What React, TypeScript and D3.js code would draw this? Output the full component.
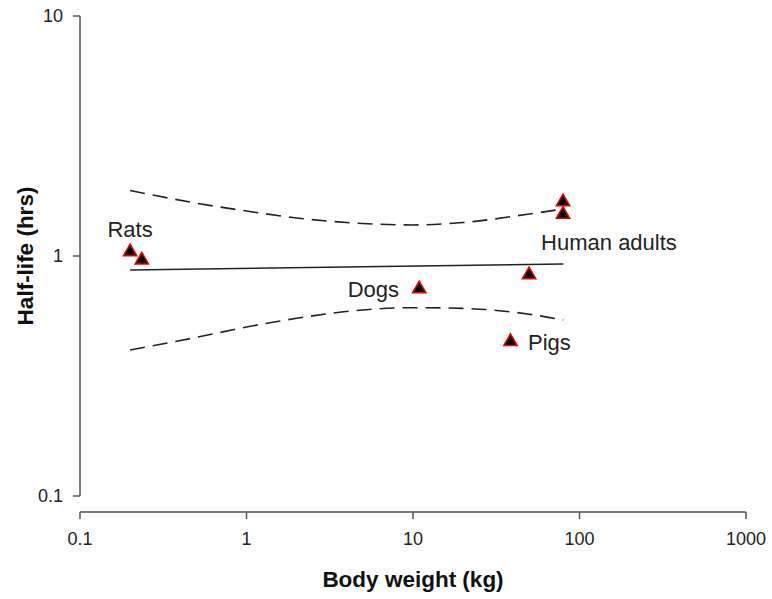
import { scaleLog, line, curveMonotoneX, symbol, symbolTriangle } from "d3";

const species = ["Rats", "Rats", "Dogs", "Pigs", "Human adults", "Human adults", "Human adults"];
const bodyWeight = [0.2, 0.235, 10.9, 38.5, 49.8, 79.6, 79.6];
const halfLife = [1.04, 0.962, 0.729, 0.44, 0.835, 1.68, 1.49];

// fitted line and confidence band
const fitWeight = [0.2, 80];
const fitHalfLife = [0.874, 0.926];
const bandWeight = [0.2, 0.5, 1, 2, 5, 10, 20, 50, 80];
const bandUpper = [1.875, 1.66, 1.54, 1.44, 1.366, 1.347, 1.379, 1.496, 1.57];
const bandLower = [0.406, 0.458, 0.506, 0.55, 0.596, 0.609, 0.605, 0.572, 0.541];

// group labels
const labelText = ["Rats", "Human adults", "Dogs", "Pigs"];
const labelWeight = [0.2, 58.8, 8.24, 49.1];
const labelHalfLife = [1.2, 1.06, 0.673, 0.406];
const labelAnchor = ["middle", "start", "end", "start"];

const xTicks = [0.1, 1, 10, 100, 1000];
const yTicks = [0.1, 1, 10];

const W = 772, H = 599;
const FONT = "'Liberation Sans', Arial, Helvetica, sans-serif";

export default function App() {
  const x = scaleLog().domain([0.1, 1000]).range([80, 746]);
  const y = scaleLog().domain([0.1, 10]).range([496, 16]);

  const straight = line<[number, number]>().x(d => x(d[0])).y(d => y(d[1]));
  const smooth = line<[number, number]>().x(d => x(d[0])).y(d => y(d[1])).curve(curveMonotoneX);

  const fitPts = fitWeight.map((w, i) => [w, fitHalfLife[i]] as [number, number]);
  const upPts = bandWeight.map((w, i) => [w, bandUpper[i]] as [number, number]);
  const loPts = bandWeight.map((w, i) => [w, bandLower[i]] as [number, number]);
  const tri = symbol().type(symbolTriangle).size(78)() ?? "";
  const axisCol = "#555";

  return (
    <svg width={W} height={H} viewBox={`0 0 ${W} ${H}`}
      style={{ position: "absolute", left: 0, top: 0, background: "#fff" }}
      fontFamily={FONT}>
      {/* y axis */}
      <line x1={80} x2={80} y1={y(10)} y2={y(0.1)} stroke={axisCol} strokeWidth={1.5}/>
      {yTicks.map(t => (
        <g key={t} transform={`translate(80,${y(t)})`}>
          <line x1={-7} x2={0} stroke={axisCol} strokeWidth={1.5}/>
          <text x={-17} dy="0.35em" textAnchor="end" fontSize={18} fill="#222">{t}</text>
        </g>
      ))}
      {/* x axis */}
      <line x1={x(0.1)} x2={x(1000)} y1={512} y2={512} stroke={axisCol} strokeWidth={1.5}/>
      {xTicks.map(t => (
        <g key={t} transform={`translate(${x(t)},512)`}>
          <line y1={0} y2={7} stroke={axisCol} strokeWidth={1.5}/>
          <text y={33} textAnchor="middle" fontSize={18} fill="#222">{t}</text>
        </g>
      ))}
      <text x={x(10)} y={587} textAnchor="middle" fontSize={22.5} fontWeight="bold" fill="#111">Body weight (kg)</text>
      <text transform={`translate(33,${y(1)}) rotate(-90)`} textAnchor="middle" fontSize={22.5} fontWeight="bold" fill="#111">Half-life (hrs)</text>

      {/* regression and band */}
      <path d={straight(fitPts) ?? ""} fill="none" stroke="#222" strokeWidth={1.6}/>
      <path d={smooth(upPts) ?? ""} fill="none" stroke="#222" strokeWidth={1.6} strokeDasharray="15,8"/>
      <path d={smooth(loPts) ?? ""} fill="none" stroke="#222" strokeWidth={1.6} strokeDasharray="15,8"/>

      {/* points */}
      {bodyWeight.map((w, i) => (
        <path key={i} d={tri} transform={`translate(${x(w)},${y(halfLife[i])})`}
          fill="#000" stroke="#e00" strokeWidth={1.5}>
          <title>{species[i]}</title>
        </path>
      ))}

      {labelText.map((t, i) => (
        <text key={t} x={x(labelWeight[i])} y={y(labelHalfLife[i])}
          textAnchor={labelAnchor[i] as "start" | "middle" | "end"} fontSize={22} fill="#222">{t}</text>
      ))}
    </svg>
  );
}
